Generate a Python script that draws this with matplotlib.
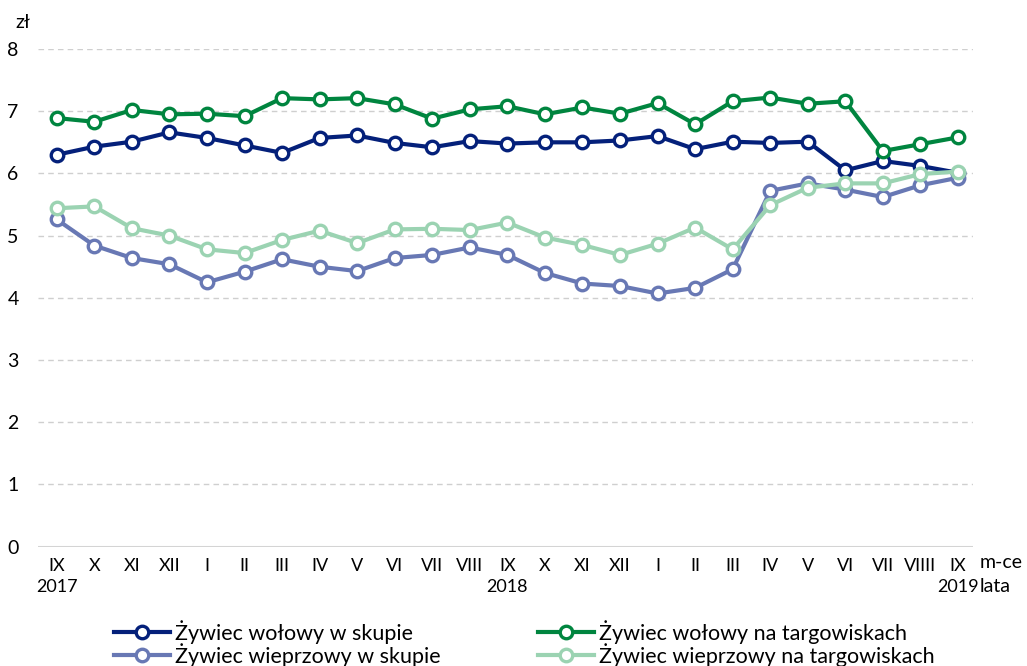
import matplotlib
matplotlib.use("Agg")
import matplotlib.pyplot as plt

months = ["IX", "X", "XI", "XII", "I", "II", "III", "IV", "V", "VI", "VII", "VIII",
          "IX", "X", "XI", "XII", "I", "II", "III", "IV", "V", "VI", "VII", "VIIII", "IX"]
years = {0: "2017", 12: "2018", 24: "2019"}

wolowy_skup = [6.30, 6.43, 6.51, 6.66, 6.57, 6.45, 6.33, 6.57, 6.61, 6.49, 6.42, 6.52,
               6.48, 6.50, 6.50, 6.53, 6.60, 6.39, 6.51, 6.49, 6.51, 6.05, 6.20, 6.12, 6.01]
wolowy_targ = [6.89, 6.83, 7.02, 6.95, 6.96, 6.92, 7.21, 7.19, 7.21, 7.11, 6.88, 7.03,
               7.08, 6.95, 7.06, 6.96, 7.13, 6.79, 7.16, 7.22, 7.12, 7.16, 6.36, 6.47, 6.58]
wieprz_skup = [5.26, 4.84, 4.64, 4.54, 4.25, 4.42, 4.62, 4.50, 4.43, 4.64, 4.69, 4.81,
               4.69, 4.40, 4.23, 4.19, 4.07, 4.16, 4.46, 5.72, 5.84, 5.74, 5.62, 5.81, 5.93]
wieprz_targ = [5.44, 5.47, 5.12, 5.00, 4.78, 4.72, 4.93, 5.08, 4.88, 5.10, 5.11, 5.09,
               5.21, 4.97, 4.85, 4.69, 4.87, 5.13, 4.78, 5.49, 5.77, 5.84, 5.84, 5.99, 6.03]

labels = ["Żywiec wołowy w skupie", "Żywiec wieprzowy w skupie",
          "Żywiec wołowy na targowiskach", "Żywiec wieprzowy na targowiskach"]
colors = ["#04207a", "#6878b4", "#00853f", "#9bd3b2"]
series = [wolowy_skup, wieprz_skup, wolowy_targ, wieprz_targ]

plt.rcParams['font.family'] = ['Lato', 'DejaVu Sans']

fig = plt.figure(figsize=(10.27, 6.66), dpi=100)
ax = fig.add_axes([38/1027, 1-546.7/666, (973-38)/1027, (546.7-49)/666])

x = list(range(len(months)))
handles = []
for s, c, lab in zip(series, colors, labels):
    h, = ax.plot(x, s, color=c, lw=3.0, marker='o', markersize=9,
                 markerfacecolor='white', markeredgecolor=c, markeredgewidth=2.4,
                 label=lab, zorder=3)
    handles.append(h)
handles[3].set_zorder(4)

ax.set_xlim(-0.5, 24.4)
ax.set_ylim(0, 8)
ax.set_yticks(range(0, 9))
ax.set_yticklabels([str(v) for v in range(0, 9)], fontsize=14)
ax.set_xticks(x)
ax.set_xticklabels([m + ("\n" + years[i] if i in years else "") for i, m in enumerate(months)],
                   fontsize=13, linespacing=1.4)
ax.tick_params(axis='both', length=0)
ax.tick_params(axis='x', pad=8)
ax.tick_params(axis='y', pad=14)

for v in range(1, 9):
    ax.axhline(v, color='#cfcfcf', lw=1, ls=(0, (4, 3)), zorder=1)
ax.axhline(0, color='#d4d4d4', lw=1.5, zorder=1)
for sp in ax.spines.values():
    sp.set_visible(False)

fig.text(15/1027, 1-22/666, "zł", fontsize=14, va='center', ha='left')
fig.text(980/1027, 1-563/666, "m-ce", fontsize=14, va='center', ha='left')
fig.text(980/1027, 1-587/666, "lata", fontsize=14, va='center', ha='left')

fig.legend(handles=handles, labels=labels, ncol=2, loc='upper left',
           bbox_to_anchor=(114/1027, 1-620/666), frameon=False, fontsize=15.5,
           handlelength=2.6, handletextpad=0.25, columnspacing=4.5,
           labelspacing=-0.05, borderpad=0, borderaxespad=0)

fig.savefig("out.png", dpi=100)
